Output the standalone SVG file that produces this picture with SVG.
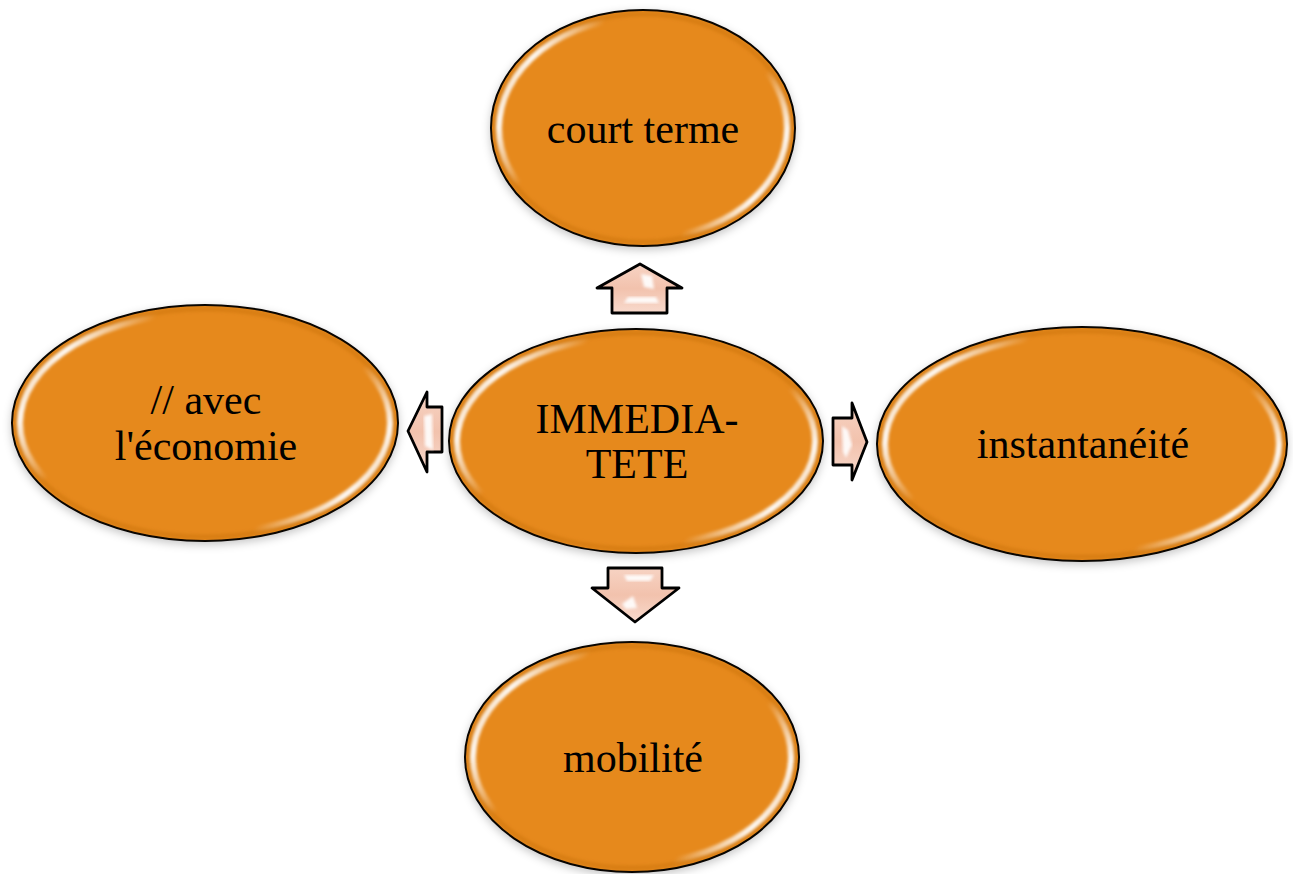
<svg xmlns="http://www.w3.org/2000/svg" width="1293" height="874" viewBox="0 0 1293 874">
  <style>
    .body { fill: #E6891F; stroke: #000; stroke-width: 2; filter: url(#shadow); }
    .rim { fill: none; stroke: url(#gloss); stroke-width: 6; filter: url(#soft); }
    .edge { fill: none; stroke: #B9620F; stroke-width: 5; stroke-opacity: 0.3; filter: url(#soft); }
    .label { font-family: "Liberation Serif", "Times New Roman", serif; font-size: 42px; fill: #000; text-anchor: middle; }
    .arrow { fill: url(#pink); stroke: #000; stroke-width: 2.8; stroke-linejoin: round; }
    .shine { fill: #FFFFFF; opacity: 0.9; filter: url(#soft); }
  </style>
  <defs>
    <filter id="shadow" x="-10%" y="-10%" width="120%" height="125%">
      <feDropShadow dx="0" dy="3" stdDeviation="4" flood-color="#000" flood-opacity="0.22"/>
    </filter>
    <filter id="soft" x="-10%" y="-10%" width="120%" height="120%">
      <feGaussianBlur stdDeviation="1.5"/>
    </filter>
    <!-- gloss runs along the left and lower-right parts of each rim -->
    <linearGradient id="gloss" x1="0" y1="0.3" x2="1" y2="0.7">
      <stop offset="0" stop-color="#FFFFFF" stop-opacity="0.6"/>
      <stop offset="0.06" stop-color="#FFFFFF" stop-opacity="0.95"/>
      <stop offset="0.22" stop-color="#FFFFFF" stop-opacity="0"/>
      <stop offset="0.78" stop-color="#FFFFFF" stop-opacity="0"/>
      <stop offset="0.94" stop-color="#FFFFFF" stop-opacity="0.95"/>
      <stop offset="1" stop-color="#FFFFFF" stop-opacity="0.6"/>
    </linearGradient>
    <linearGradient id="pink" x1="0" y1="0" x2="0" y2="1">
      <stop offset="0" stop-color="#F7D3C3"/>
      <stop offset="0.5" stop-color="#F2C2AD"/>
      <stop offset="1" stop-color="#F8DACD"/>
    </linearGradient>
  </defs>

  <rect width="1293" height="874" fill="#FFFFFF"/>

  <!-- connectors: block arrows pointing outward from the centre -->
  <g id="connectors">
    <g id="arrow-up">
      <polygon class="arrow" points="640,264 682,288 667,288 667,313 612,313 612,288 597,288"/>
      <polygon class="shine" points="641,274 652,276 654,289 644,287"/>
      <polygon class="shine" points="628,297 656,297 659,303 624,303"/>
    </g>
    <g id="arrow-down">
      <polygon class="arrow" points="608,568 662,568 662,588 679,588 635,622 592,588 608,588"/>
      <polygon class="shine" points="624,575 654,575 650,581 627,581"/>
      <polygon class="shine" points="622,604 633,596 637,608 626,609"/>
    </g>
    <g id="arrow-left">
      <polygon class="arrow" points="408,431 427,392 427,407 442,407 442,452 427,452 427,472"/>
      <polygon class="shine" points="424,416 432,414 433,450 425,446"/>
    </g>
    <g id="arrow-right">
      <polygon class="arrow" points="833,418 852,418 852,403 867,442 852,480 852,465 833,465"/>
      <polygon class="shine" points="842,426 848,430 852,445 846,458 843,452"/>
    </g>
  </g>

  <g id="node-court-terme">
    <ellipse class="body" cx="643" cy="128" rx="152" ry="118"/>
    <ellipse class="edge" cx="643" cy="128" rx="148" ry="114"/>
    <ellipse class="rim" cx="643" cy="128" rx="144" ry="110"/>
    <text class="label" x="643" y="143">court terme</text>
  </g>

  <g id="node-economie">
    <ellipse class="body" cx="205" cy="423" rx="193" ry="118"/>
    <ellipse class="edge" cx="205" cy="423" rx="189" ry="114"/>
    <ellipse class="rim" cx="205" cy="423" rx="185" ry="110"/>
    <text class="label" x="206" y="414">// avec</text>
    <text class="label" x="206" y="460">l'économie</text>
  </g>

  <g id="node-immediatete">
    <ellipse class="body" cx="636" cy="441" rx="187" ry="112"/>
    <ellipse class="edge" cx="636" cy="441" rx="183" ry="108"/>
    <ellipse class="rim" cx="636" cy="441" rx="179" ry="104"/>
    <text class="label" x="637" y="433">IMMEDIA-</text>
    <text class="label" x="637" y="478">TETE</text>
  </g>

  <g id="node-instantaneite">
    <ellipse class="body" cx="1082" cy="444" rx="205" ry="117"/>
    <ellipse class="edge" cx="1082" cy="444" rx="201" ry="113"/>
    <ellipse class="rim" cx="1082" cy="444" rx="197" ry="109"/>
    <text class="label" x="1083" y="458">instantanéité</text>
  </g>

  <g id="node-mobilite">
    <ellipse class="body" cx="632" cy="757" rx="167" ry="115"/>
    <ellipse class="edge" cx="632" cy="757" rx="163" ry="111"/>
    <ellipse class="rim" cx="632" cy="757" rx="159" ry="107"/>
    <text class="label" x="633" y="772">mobilité</text>
  </g>
</svg>
